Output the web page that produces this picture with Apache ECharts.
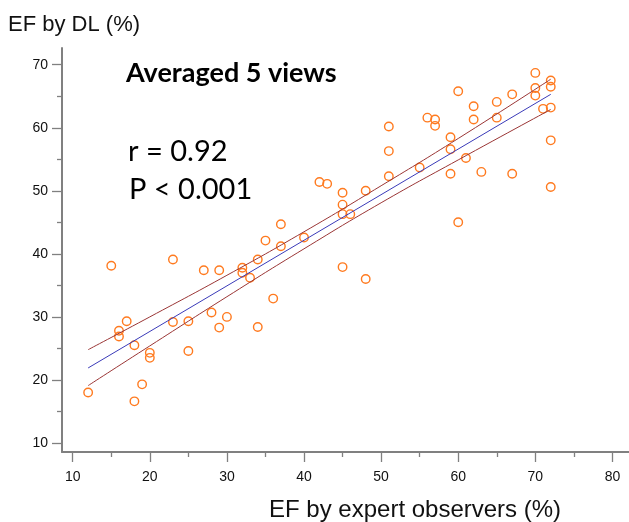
<!DOCTYPE html>
<html>
<head>
<meta charset="utf-8">
<script src="https://cdn.jsdelivr.net/npm/echarts@6/dist/echarts.min.js"></script>
<style>
  html, body { margin: 0; padding: 0; background: #fff; }
  #chart { width: 629px; height: 522px; }
</style>
</head>
<body>
<div id="chart"></div>
<script>
// EF by expert observers (x) vs EF by DL (y), %
var expertEF = [12, 15, 16, 16, 17, 18, 18, 19, 20, 20, 23, 23, 25, 25, 27, 28, 29, 29, 30, 32,
  32, 33, 34, 34, 35, 36, 37, 37, 40, 42, 43, 45, 45, 45, 45, 46, 48, 48, 51, 51,
  51, 55, 56, 57, 57, 59, 59, 59, 60, 60, 61, 62, 62, 63, 65, 65, 67, 67, 70, 70,
  70, 71, 72, 72, 72, 72, 72];
var dlEF = [18.0, 38.1, 27.8, 26.9, 29.3, 25.5, 16.6, 19.3, 24.3, 23.5, 39.1, 29.2, 29.3, 24.6, 37.4, 30.7, 37.4, 28.3, 30.0, 37.8,
  37.0, 36.2, 39.1, 28.4, 42.1, 32.9, 44.7, 41.2, 42.6, 51.4, 51.1, 49.7, 47.8, 46.3, 37.9, 46.3, 50.0, 36.0, 60.2, 56.3,
  52.3, 53.7, 61.6, 61.3, 60.3, 58.5, 56.6, 52.7, 65.8, 45.0, 55.2, 63.4, 61.3, 53.0, 64.1, 61.6, 65.3, 52.7, 68.7, 66.3,
  65.1, 63.0, 67.5, 66.5, 63.2, 58.0, 50.6];

// regression line and its confidence band
var fitX = [12, 72];
var fitY = [21.9, 65.3];
var bandX = [12, 20, 30, 40, 50, 60, 72];
var bandUpper = [24.8, 30.0, 36.6, 43.5, 50.8, 58.3, 67.7];
var bandLower = [19.1, 25.4, 33.2, 40.8, 48.1, 54.9, 62.9];

var xMajor = [10, 20, 30, 40, 50, 60, 70, 80];
var xMinor = [15, 25, 35, 45, 55, 65, 75];
var yMajor = [10, 20, 30, 40, 50, 60, 70];
var yMinor = [15, 25, 35, 45, 55, 65];

function pairs(xs, ys) {
  return xs.map(function (x, i) { return [x, ys[i]]; });
}

var chart = echarts.init(document.getElementById('chart'), null, { renderer: 'canvas' });

var axisGray = '#808080';
var labelFont = { fontFamily: 'Liberation Sans', fontSize: 14, color: '#111' };

var option = {
  animation: false,
  grid: { left: 62, right: 0, top: 48, bottom: 70 },
  xAxis: [
    {
      type: 'value', min: 8.61, max: 82.15, position: 'bottom',
      axisLine: { lineStyle: { color: axisGray, width: 2 } },
      axisTick: { customValues: xMajor, length: 10, lineStyle: { color: axisGray, width: 1.3 } },
      axisLabel: Object.assign({ customValues: xMajor, margin: 18 }, labelFont),
      splitLine: { show: false }
    },
    {
      type: 'value', min: 8.61, max: 82.15, position: 'bottom',
      axisLine: { show: false },
      axisTick: { customValues: xMinor, length: 5, lineStyle: { color: axisGray, width: 1.3 } },
      axisLabel: { show: false },
      splitLine: { show: false }
    }
  ],
  yAxis: [
    {
      type: 'value', min: 8.57, max: 72.65, position: 'left',
      axisLine: { show: true, lineStyle: { color: axisGray, width: 2 } },
      axisTick: { show: true, customValues: yMajor, length: 10, lineStyle: { color: axisGray, width: 1.3 } },
      axisLabel: Object.assign({ customValues: yMajor, margin: 14 }, labelFont),
      splitLine: { show: false }
    },
    {
      type: 'value', min: 8.57, max: 72.65, position: 'left',
      axisLine: { show: false },
      axisTick: { show: true, customValues: yMinor, length: 5, lineStyle: { color: axisGray, width: 1.3 } },
      axisLabel: { show: false },
      splitLine: { show: false }
    }
  ],
  series: [
    {
      type: 'line', data: pairs(bandX, bandUpper), smooth: true, symbol: 'none',
      lineStyle: { color: '#9a3535', width: 1 }
    },
    {
      type: 'line', data: pairs(bandX, bandLower), smooth: true, symbol: 'none',
      lineStyle: { color: '#9a3535', width: 1 }
    },
    {
      type: 'line', data: pairs(fitX, fitY), symbol: 'none',
      lineStyle: { color: '#3a3ab8', width: 1 }
    },
    {
      type: 'scatter', data: pairs(expertEF, dlEF), symbol: 'circle', symbolSize: 8.5,
      itemStyle: { color: 'rgba(255,255,255,0)', borderColor: '#ff7a1f', borderWidth: 1.4, opacity: 1 }
    }
  ],
  graphic: [
    { type: 'text', x: 8, y: 24.6, style: { text: 'EF by DL (%)', font: '22px "Liberation Sans"', fill: '#111', verticalAlign: 'middle' } },
    { type: 'text', x: 269, y: 510, style: { text: 'EF by expert observers (%)', font: '24px "Liberation Sans"', fill: '#111', verticalAlign: 'middle' } },
    { type: 'text', x: 126, y: 73, style: { text: 'Averaged 5 views', font: 'bold 27px Lato', fill: '#000', verticalAlign: 'middle' } },
    { type: 'text', x: 128, y: 152, style: { text: 'r = 0.92', font: '29px Lato', fill: '#000', verticalAlign: 'middle' } },
    { type: 'text', x: 129, y: 190, style: { text: 'P < 0.001', font: '29px Lato', fill: '#000', verticalAlign: 'middle' } }
  ]
};

chart.setOption(option);
</script>
</body>
</html>
